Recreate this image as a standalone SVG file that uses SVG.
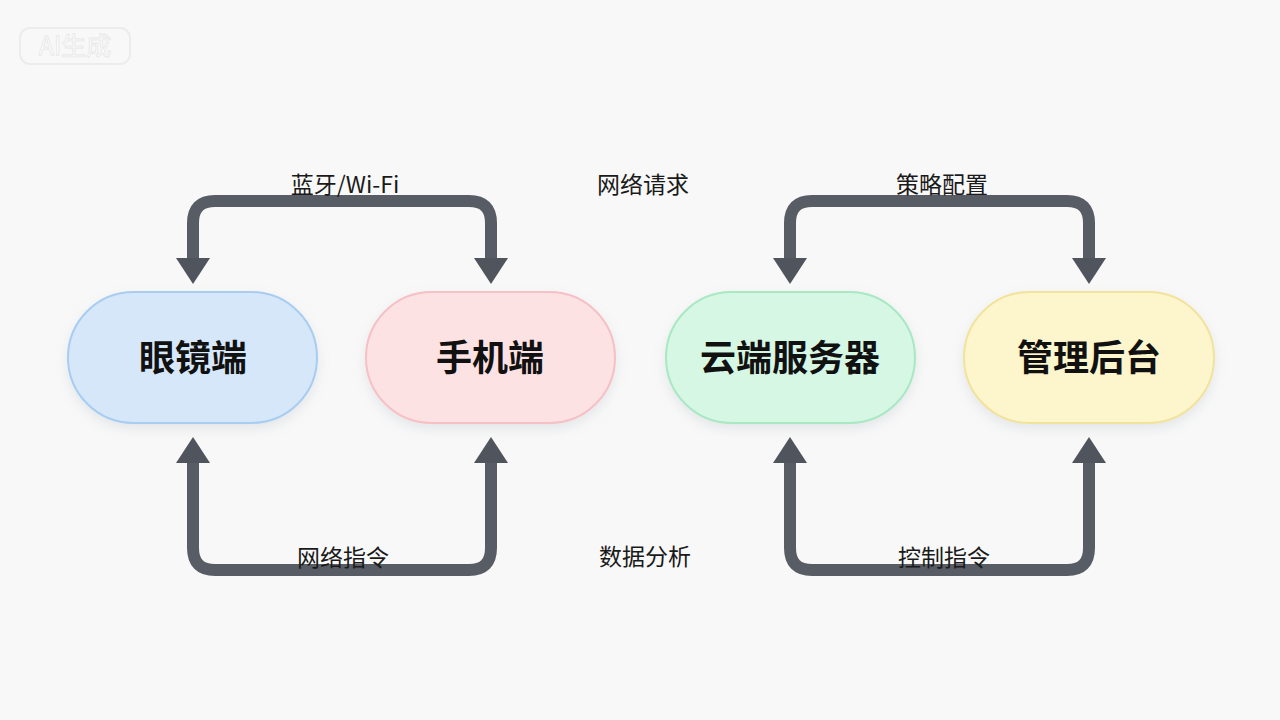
<svg xmlns="http://www.w3.org/2000/svg" width="1280" height="720" viewBox="0 0 1280 720">
<defs>
<style>
.conn{fill:none;stroke:#575c65;stroke-width:12;marker-start:url(#ah);marker-end:url(#ah)}
.lbl{font-family:"Noto Sans CJK SC","Noto Sans",sans-serif;font-size:23px;fill:#1a1a1a;text-anchor:middle}
.ntxt{font-family:"Noto Sans CJK SC","Noto Sans",sans-serif;font-size:36px;font-weight:700;fill:#111;text-anchor:middle}
.node rect{stroke-width:2}
</style>
<marker id="ah" viewBox="0 0 26 34" refX="1" refY="17" markerWidth="26" markerHeight="34" markerUnits="userSpaceOnUse" orient="auto-start-reverse">
<path d="M0,0 L26,17 L0,34 z" fill="#4f545d"/>
</marker>
<filter id="sh" x="-20%" y="-30%" width="140%" height="170%">
<feDropShadow dx="0" dy="5" stdDeviation="6" flood-color="#9aa4b0" flood-opacity="0.22"/>
</filter>
</defs>
<rect width="1280" height="720" fill="#f8f8f8"/>
<g id="watermark">
<rect x="20" y="28" width="110" height="36" rx="10" fill="none" stroke="#ececec" stroke-width="2"/>
<text x="75" y="55" font-family="Noto Sans CJK SC,sans-serif" font-size="25" fill="#ffffff" stroke="#e6e6e6" stroke-width="0.8" text-anchor="middle">AI生成</text>
</g>
<g id="connectors">
<path class="conn" d="M193,259 V223 Q193,201 215,201 H469 Q491,201 491,223 V259"/>
<path class="conn" d="M193,462 V548 Q193,570 215,570 H469 Q491,570 491,548 V462"/>
<path class="conn" d="M790,259 V223 Q790,201 812,201 H1067 Q1089,201 1089,223 V259"/>
<path class="conn" d="M790,462 V548 Q790,570 812,570 H1067 Q1089,570 1089,548 V462"/>
<text class="lbl" x="345" y="193">蓝牙/Wi-Fi</text>
<text class="lbl" x="643" y="193">网络请求</text>
<text class="lbl" x="942" y="193">策略配置</text>
<text class="lbl" x="343" y="566">网络指令</text>
<text class="lbl" x="645" y="565">数据分析</text>
<text class="lbl" x="944" y="566">控制指令</text>
</g>
<g id="node-glasses" class="node">
<rect x="68" y="292" width="249" height="131" rx="65.5" fill="#d5e7f8" stroke="#a8cdf2" filter="url(#sh)"/>
<text class="ntxt" x="193" y="371">眼镜端</text>
</g>
<g id="node-phone" class="node">
<rect x="366" y="292" width="249" height="131" rx="65.5" fill="#fde2e4" stroke="#f6c0c5" filter="url(#sh)"/>
<text class="ntxt" x="490" y="371">手机端</text>
</g>
<g id="node-cloud" class="node">
<rect x="666" y="292" width="249" height="131" rx="65.5" fill="#d6f7e4" stroke="#a8e8c2" filter="url(#sh)"/>
<text class="ntxt" x="790" y="371">云端服务器</text>
</g>
<g id="node-admin" class="node">
<rect x="964" y="292" width="250" height="131" rx="65.5" fill="#fdf5cc" stroke="#f2e39c" filter="url(#sh)"/>
<text class="ntxt" x="1089" y="371">管理后台</text>
</g>
</svg>
